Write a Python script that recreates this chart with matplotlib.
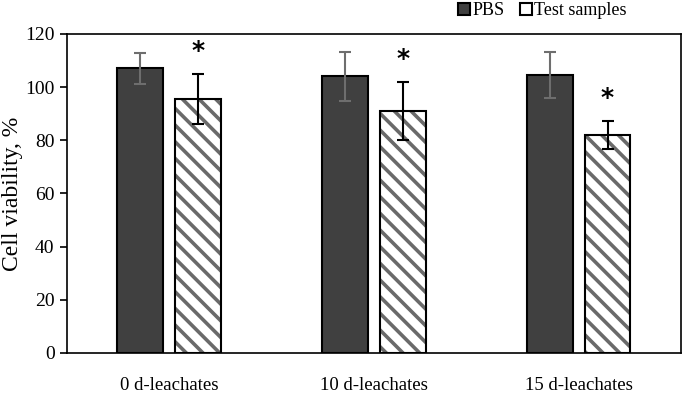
import numpy as np
import matplotlib
matplotlib.use("Agg")
import matplotlib.pyplot as plt
from matplotlib.patches import Patch

plt.rcParams['font.family'] = ['Liberation Serif', 'DejaVu Serif']
plt.rcParams['hatch.linewidth'] = 2.6

groups = ["0 d-leachates", "10 d-leachates", "15 d-leachates"]
pbs_mean = [107, 104, 104.5]
pbs_err = [5.8, 9.3, 8.6]
test_mean = [95.5, 91, 82]
test_err = [9.5, 11, 5.4]
significant = [True, True, True]

fig = plt.figure(figsize=(6.84, 4.08), dpi=100)
ax = fig.add_axes([0.098, 0.135, 0.8975, 0.782])

x = np.arange(len(groups))
w = 0.224
off = 0.1415

ax.bar(x - off, pbs_mean, w, color='#404040', edgecolor='black', linewidth=1.5, zorder=2)
ax.errorbar(x - off, pbs_mean, yerr=pbs_err, fmt='none', ecolor='#6e6e6e',
            elinewidth=1.5, capsize=4, capthick=1.5, zorder=3)

# hatched bars: gray stripes, then black outline on top
ax.bar(x + off, test_mean, w, color='white', edgecolor='#6a6a6a', hatch='\\\\',
       linewidth=0, zorder=2)
ax.bar(x + off, test_mean, w, fill=False, edgecolor='black', linewidth=1.5, zorder=3)
ax.errorbar(x + off, test_mean, yerr=test_err, fmt='none', ecolor='black',
            elinewidth=1.5, capsize=4, capthick=1.5, zorder=4)

for i, sig in enumerate(significant):
    if sig:
        ax.text(x[i] + off, test_mean[i] + test_err[i] + 8.5, '*', ha='center', va='center',
                fontsize=18, fontweight='bold', family='DejaVu Sans')

ax.set_xlim(-0.5, 2.5)
ax.set_ylim(0, 120)
ax.set_yticks(np.arange(0, 121, 20))
ax.set_xticks(x)
ax.set_xticklabels(groups, fontsize=13.5)
ax.tick_params(axis='x', length=0, pad=17)
ax.tick_params(axis='y', labelsize=14, direction='out', length=5, width=1.2, pad=4)
for s in ax.spines.values():
    s.set_linewidth(1.2)
ax.set_ylabel("Cell viability, %", fontsize=17)
ax.yaxis.set_label_coords(-0.072, 0.5)

handles = [Patch(facecolor='#404040', edgecolor='black', linewidth=1.5),
           Patch(facecolor='white', edgecolor='black', linewidth=1.5)]
fig.legend(handles, ["PBS", "Test samples"], loc='upper right', bbox_to_anchor=(0.935, 1.025),
           ncol=2, frameon=False, fontsize=13, handlelength=0.65, handleheight=0.65,
           handletextpad=0.15, columnspacing=0.85, borderpad=0.2)

fig.savefig("out.png", dpi=100)
